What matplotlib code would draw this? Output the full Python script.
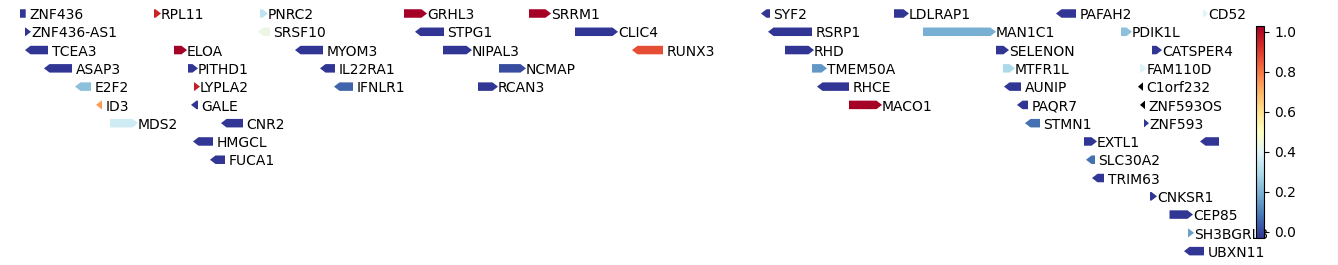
import numpy as np
import matplotlib
matplotlib.use("Agg")
import matplotlib.pyplot as plt
from matplotlib.patches import Polygon
from matplotlib.colors import Normalize
from matplotlib.cm import ScalarMappable

# ---- data (positions in plot units) ----
names = ["ZNF436", "RPL11", "PNRC2", "GRHL3", "SRRM1", "SYF2", "LDLRAP1", "PAFAH2", "CD52",
         "ZNF436-AS1", "SRSF10", "STPG1", "CLIC4", "RSRP1", "MAN1C1", "PDIK1L",
         "TCEA3", "ELOA", "MYOM3", "NIPAL3", "RUNX3", "RHD", "SELENON", "CATSPER4",
         "ASAP3", "PITHD1", "IL22RA1", "NCMAP", "TMEM50A", "MTFR1L", "FAM110D",
         "E2F2", "LYPLA2", "IFNLR1", "RCAN3", "RHCE", "AUNIP", "C1orf232",
         "ID3", "GALE", "MACO1", "PAQR7", "ZNF593OS",
         "MDS2", "CNR2", "STMN1", "ZNF593",
         "HMGCL", "EXTL1", "CRYBG2",
         "FUCA1", "SLC30A2",
         "TRIM63", "CNKSR1", "CEP85", "SH3BGRL3", "UBXN11"]
starts = [12, 154, 260, 404, 529, 761, 894, 1056, 1203,
          25, 258, 415, 575, 768, 923, 1121,
          25, 174, 295, 443, 632, 785, 996, 1152,
          44, 188, 320, 499, 812, 1003, 1140,
          75, 194, 334, 478, 817, 1004, 1138,
          96, 191, 849, 1017, 1140,
          110, 221, 1025, 1144,
          193, 1084, 1200,
          210, 1086,
          1092, 1150, 1169.5, 1188, 1184]
ends = [25.7, 161, 268, 427, 551, 770, 909, 1076, 1208,
        31, 270, 444, 618, 812, 996, 1132,
        48, 187, 323, 472, 663, 814, 1009, 1162,
        72, 198, 335, 526, 827, 1015, 1147,
        91, 200, 353, 498, 849, 1021, 1143,
        102, 198, 882, 1028, 1145,
        138, 243, 1040, 1149,
        213, 1097, 1230,
        225, 1095,
        1104, 1157, 1193, 1194, 1204]
strands = ["-", "+", "+", "+", "+", "-", "+", "-", "+",
           "+", "-", "-", "+", "-", "+", "+",
           "-", "+", "-", "+", "-", "+", "+", "+",
           "-", "+", "-", "+", "+", "+", "+",
           "-", "+", "-", "+", "-", "-", "-",
           "-", "-", "+", "-", "-",
           "+", "-", "-", "+",
           "-", "+", "-",
           "-", "-",
           "-", "+", "+", "+", "-"]
rows = [0] * 9 + [1] * 7 + [2] * 8 + [3] * 7 + [4] * 7 + [5] * 5 + [6] * 4 + [7] * 3 + [8] * 2 + \
       [9, 10, 11, 12, 13]
values = [-0.03, 0.95, 0.33, 1.03, 1.03, -0.03, -0.03, -0.03, 0.39,
          -0.03, 0.43, -0.03, -0.03, -0.03, 0.19, 0.23,
          -0.03, 1.03, -0.03, -0.03, 0.87, -0.03, -0.03, -0.03,
          -0.03, -0.03, -0.03, 0.01, 0.14, 0.29, 0.39,
          0.23, 0.96, 0.05, -0.03, -0.03, -0.03, np.nan,
          0.74, -0.03, 1.03, -0.03, np.nan,
          0.36, -0.03, 0.07, -0.03,
          -0.03, -0.03, -0.03,
          -0.03, 0.07,
          -0.03, -0.03, -0.03, 0.16, -0.03]
cbar_ticks = [0.0, 0.2, 0.4, 0.6, 0.8, 1.0]

# ---- figure ----
W, H = 1338, 265
fig = plt.figure(figsize=(W / 100, H / 100), dpi=100)
x0, x1 = 20, 1219
ax = fig.add_axes([x0 / W, 0, (x1 - x0) / W, 1])
ax.set_xlim(x0, x1)
row_px0, row_step = 13.5, 18.28
ax.set_ylim((H - row_px0) / row_step, -row_px0 / row_step)
ax.axis("off")

cmap = matplotlib.colormaps["RdYlBu_r"].copy()
cmap.set_bad("black")
vals = np.array(values, dtype=float)
norm = Normalize(vmin=np.nanmin(vals), vmax=np.nanmax(vals))

gh = 8.5 / row_step  # gene height in row units
hl_max = 5.5
base_off = 5.7 / row_step
for n, s, e, st, r, v in zip(names, starts, ends, strands, rows, vals):
    color = cmap(norm(v)) if np.isfinite(v) else (0, 0, 0, 1)
    hl = min(hl_max, e - s)
    top, bot = r - gh / 2, r + gh / 2
    if st == "+":
        pts = [(s, top), (e - hl, top), (e, r), (e - hl, bot), (s, bot)]
    else:
        pts = [(s + hl, top), (e, top), (e, bot), (s + hl, bot), (s, r)]
    ax.add_patch(Polygon(pts, closed=True, facecolor=color, edgecolor="none",
                         clip_on=True))
    if e <= x1:
        off = 0.0 if st == "+" else 3.5
        ax.text(e + off, r + base_off, n, fontsize=10, va="baseline", ha="left",
                clip_on=False)

cax = fig.add_axes([1255.7 / W, (H - 237.7) / H, 8.6 / W, 211.7 / H])
sm = ScalarMappable(norm=norm, cmap=cmap)
cb = fig.colorbar(sm, cax=cax, ticks=cbar_ticks)
cb.ax.tick_params(labelsize=10)

fig.savefig("out.png", dpi=100)
